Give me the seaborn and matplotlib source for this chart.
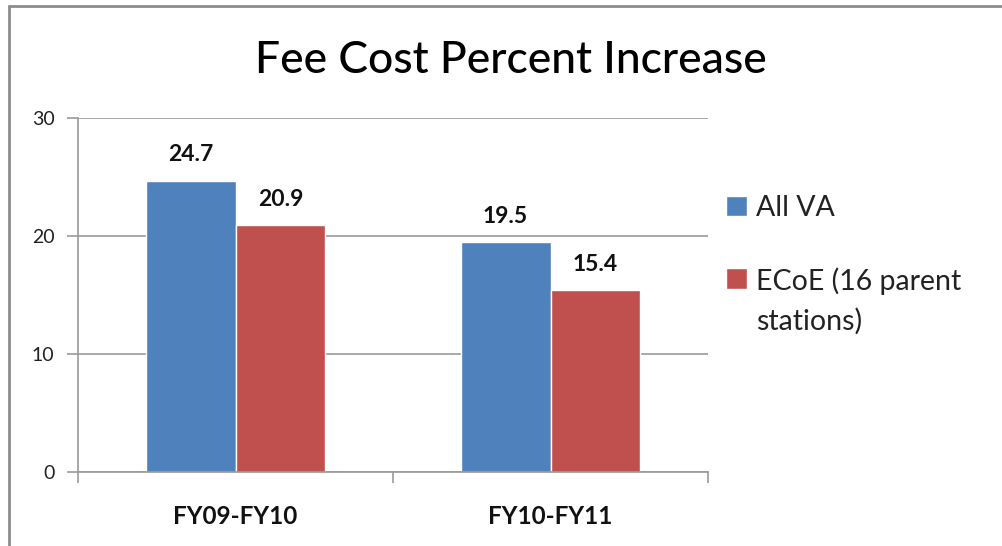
import matplotlib
matplotlib.use("Agg")
import matplotlib.pyplot as plt
import seaborn as sns
import pandas as pd
from matplotlib.lines import Line2D

categories = ["FY09-FY10", "FY10-FY11"]
series_names = ["All VA", "ECoE (16 parent\nstations)"]
all_va = [24.7, 19.5]
ecoe = [20.9, 15.4]
y_ticks = [0, 10, 20, 30]
title = "Fee Cost Percent Increase"

colors = ["#4F81BD", "#C0504D"]

df = pd.DataFrame({
    "period": categories * 2,
    "series": [series_names[0]] * 2 + [series_names[1]] * 2,
    "value": all_va + ecoe,
})

sns.set_theme(style="white")
plt.rcParams["font.family"] = ["Lato", "DejaVu Sans"]

fig = plt.figure(figsize=(10.02, 5.46), dpi=100)
ax = fig.add_axes([78 / 1002, 1 - 472 / 546, 630 / 1002, 354 / 546])

sns.barplot(data=df, x="period", y="value", hue="series", palette=colors,
            width=0.57, gap=0, ax=ax, saturation=1, legend=True)

ax.set_ylim(0, 30)
ax.set_xlim(-0.5, 1.5)
ax.set_yticks(y_ticks)
ax.set_yticklabels([str(t) for t in y_ticks], fontsize=14, color="#222222")
ax.yaxis.grid(True, color="#9a9a9a", linewidth=1.2)
ax.set_axisbelow(True)
ax.tick_params(axis="y", length=8, width=1.2, color="#9a9a9a", left=True, pad=9)
ax.tick_params(axis="x", which="major", length=0, pad=24)
ax.set_xticks([-0.5, 0.5, 1.5], minor=True)
ax.tick_params(axis="x", which="minor", length=8, width=1.2, color="#9a9a9a", bottom=True)
for lab in ax.get_xticklabels():
    lab.set_fontweight("bold")
    lab.set_fontsize(17.5)
    lab.set_color("#111111")
ax.set_xlabel("")
ax.set_ylabel("")
for side in ["top", "right"]:
    ax.spines[side].set_visible(False)
for side in ["left", "bottom"]:
    ax.spines[side].set_color("#9a9a9a")
    ax.spines[side].set_linewidth(1.2)

for cont in ax.containers:
    ax.bar_label(cont, fmt="%.1f", padding=11, fontsize=16.5, fontweight="bold", color="#111111")

leg_fs = 20.5
line_sp = 1.58
leg = ax.legend(loc="upper left", bbox_to_anchor=(726 / 1002, 1 - 195 / 546),
                bbox_transform=fig.transFigure, frameon=False, fontsize=leg_fs,
                handlelength=0.75, handleheight=0.75, handletextpad=0.3,
                labelspacing=1.62, borderpad=0, borderaxespad=0)
for t in leg.get_texts():
    t.set_linespacing(line_sp)
    t.set_color("#222222")
handles = leg.legend_handles
# align the second swatch with the first line of its label
handles[1].set_y(handles[1].get_y() + 0.5 * leg_fs * line_sp)

fig.text(511 / 1002, 1 - 60 / 546, title, ha="center", va="center", fontsize=32,
         fontweight="medium", color="#000000")

# outer chart frame
fig.add_artist(Line2D([8.5 / 1002, 1], [1 - 5.5 / 546, 1 - 5.5 / 546], transform=fig.transFigure,
                      color="#8c8c8c", linewidth=2))
fig.add_artist(Line2D([8.5 / 1002, 8.5 / 1002], [0, 1 - 5.5 / 546], transform=fig.transFigure,
                      color="#8c8c8c", linewidth=2))

fig.savefig("out.png", dpi=100, facecolor="white")
